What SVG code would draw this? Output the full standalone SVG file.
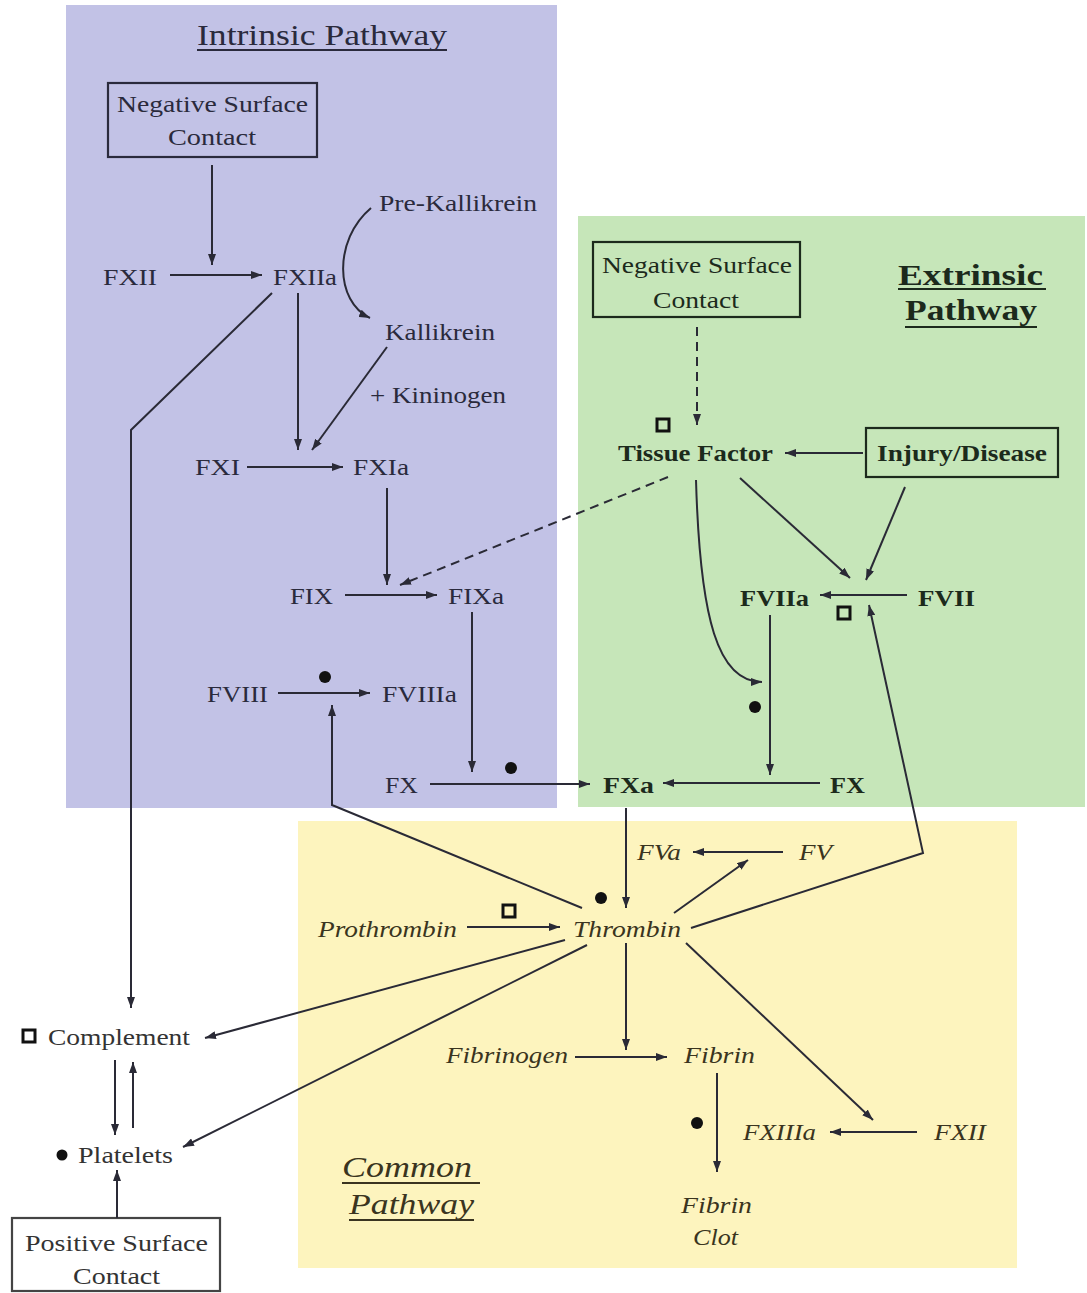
<svg xmlns="http://www.w3.org/2000/svg" width="1087" height="1293" viewBox="0 0 1087 1293">
<style>
text{font-family:"Liberation Serif","Times New Roman",serif;font-size:24px;fill:#2a2a3c}
.t{font-size:30px}
.b{font-weight:bold}
.i{font-style:italic}
.g text,text.g{fill:#1c2a1c}
.y text,text.y{fill:#3a3420}
.k text{fill:#333}
.c{fill:none;stroke:#2a2a36;stroke-width:2}
.d{stroke-dasharray:9 6}
.box{fill:none;stroke-width:2.2}
.sq{fill:none;stroke:#111;stroke-width:3}
.dot{fill:#111}
.ul{stroke-width:1.8}
</style>
<defs>
<marker id="ah" markerWidth="11" markerHeight="8" refX="11" refY="4" orient="auto" markerUnits="userSpaceOnUse">
<path d="M0,0 L11,4 L0,8 z" fill="#2a2a36"/>
</marker>
</defs>
<rect width="1087" height="1293" fill="#ffffff"/>
<g id="regions">
<rect x="66" y="5" width="491" height="803" fill="#c2c2e6"/>
<rect x="578" y="216" width="507" height="591" fill="#c6e6b9"/>
<rect x="298" y="821" width="719" height="447" fill="#fdf4be"/>
</g>

<g id="titles">
<text x="197" y="45" class="t" textLength="250" lengthAdjust="spacingAndGlyphs">Intrinsic Pathway</text>
<line x1="197" y1="50" x2="447" y2="50" stroke="#2a2a3c" class="ul"/>
<text x="898" y="285" class="t b g" textLength="145" lengthAdjust="spacingAndGlyphs">Extrinsic</text>
<line x1="898" y1="289" x2="1046" y2="289" stroke="#1c2a1c" class="ul"/>
<text x="905" y="320" class="t b g" textLength="132" lengthAdjust="spacingAndGlyphs">Pathway</text>
<line x1="905" y1="327" x2="1037" y2="327" stroke="#1c2a1c" class="ul"/>
<text x="342" y="1177" class="t i y" textLength="130" lengthAdjust="spacingAndGlyphs">Common</text>
<line x1="342" y1="1183" x2="480" y2="1183" stroke="#3a3420" class="ul"/>
<text x="349" y="1214" class="t i y" textLength="125" lengthAdjust="spacingAndGlyphs">Pathway</text>
<line x1="349" y1="1220" x2="474" y2="1220" stroke="#3a3420" class="ul"/>
</g>

<g id="n-neg-int"><rect x="108" y="83" width="209" height="74" class="box" stroke="#2a2a3c"/>
<text x="117" y="112" textLength="191" lengthAdjust="spacingAndGlyphs">Negative Surface</text>
<text x="168" y="145" textLength="88" lengthAdjust="spacingAndGlyphs">Contact</text></g>
<g id="n-fxii"><text x="103" y="285" textLength="54" lengthAdjust="spacingAndGlyphs">FXII</text></g>
<g id="n-fxiia"><text x="273" y="285" textLength="64" lengthAdjust="spacingAndGlyphs">FXIIa</text></g>
<g id="n-prekal"><text x="379" y="211" textLength="158" lengthAdjust="spacingAndGlyphs">Pre-Kallikrein</text></g>
<g id="n-kal"><text x="385" y="340" textLength="110" lengthAdjust="spacingAndGlyphs">Kallikrein</text></g>
<g id="n-kin"><text x="370" y="403" textLength="136" lengthAdjust="spacingAndGlyphs">+ Kininogen</text></g>
<g id="n-fxi"><text x="195" y="475" textLength="45" lengthAdjust="spacingAndGlyphs">FXI</text></g>
<g id="n-fxia"><text x="353" y="475" textLength="56" lengthAdjust="spacingAndGlyphs">FXIa</text></g>
<g id="n-fix"><text x="290" y="604" textLength="43" lengthAdjust="spacingAndGlyphs">FIX</text></g>
<g id="n-fixa"><text x="448" y="604" textLength="56" lengthAdjust="spacingAndGlyphs">FIXa</text></g>
<g id="n-fviii"><text x="207" y="702" textLength="61" lengthAdjust="spacingAndGlyphs">FVIII</text></g>
<g id="n-fviiia"><text x="382" y="702" textLength="75" lengthAdjust="spacingAndGlyphs">FVIIIa</text></g>
<g id="n-fx-int"><text x="385" y="793" textLength="33" lengthAdjust="spacingAndGlyphs">FX</text></g>

<g id="n-neg-ext" class="g"><rect x="593" y="242" width="207" height="75" class="box" stroke="#1c2a1c"/>
<text x="602" y="273" textLength="190" lengthAdjust="spacingAndGlyphs">Negative Surface</text>
<text x="653" y="308" textLength="86" lengthAdjust="spacingAndGlyphs">Contact</text></g>
<g id="n-tf" class="g"><text x="618" y="461" class="b" textLength="155" lengthAdjust="spacingAndGlyphs">Tissue Factor</text></g>
<g id="n-injury" class="g"><rect x="866" y="428" width="192" height="49" class="box" stroke="#1c2a1c"/>
<text x="877" y="461" class="b" textLength="170" lengthAdjust="spacingAndGlyphs">Injury/Disease</text></g>
<g id="n-fviia" class="g"><text x="740" y="606" class="b" textLength="69" lengthAdjust="spacingAndGlyphs">FVIIa</text></g>
<g id="n-fvii" class="g"><text x="918" y="606" class="b" textLength="57" lengthAdjust="spacingAndGlyphs">FVII</text></g>
<g id="n-fxa" class="g"><text x="603" y="793" class="b" textLength="51" lengthAdjust="spacingAndGlyphs">FXa</text></g>
<g id="n-fx-ext" class="g"><text x="830" y="793" class="b" textLength="35" lengthAdjust="spacingAndGlyphs">FX</text></g>

<g id="n-fva" class="y"><text x="637" y="860" class="i" textLength="44" lengthAdjust="spacingAndGlyphs">FVa</text></g>
<g id="n-fv" class="y"><text x="799" y="860" class="i" textLength="33" lengthAdjust="spacingAndGlyphs">FV</text></g>
<g id="n-thrombin" class="y"><text x="573" y="937" class="i" textLength="108" lengthAdjust="spacingAndGlyphs">Thrombin</text></g>
<g id="n-prothrombin" class="y"><text x="318" y="937" class="i" textLength="139" lengthAdjust="spacingAndGlyphs">Prothrombin</text></g>
<g id="n-fibrinogen" class="y"><text x="446" y="1063" class="i" textLength="122" lengthAdjust="spacingAndGlyphs">Fibrinogen</text></g>
<g id="n-fibrin" class="y"><text x="684" y="1063" class="i" textLength="71" lengthAdjust="spacingAndGlyphs">Fibrin</text></g>
<g id="n-fxiiia" class="y"><text x="743" y="1140" class="i" textLength="73" lengthAdjust="spacingAndGlyphs">FXIIIa</text></g>
<g id="n-fxii-c" class="y"><text x="934" y="1140" class="i" textLength="52" lengthAdjust="spacingAndGlyphs">FXII</text></g>
<g id="n-clot" class="y"><text x="681" y="1213" class="i" textLength="71" lengthAdjust="spacingAndGlyphs">Fibrin</text>
<text x="693" y="1245" class="i" textLength="45" lengthAdjust="spacingAndGlyphs">Clot</text></g>

<g id="n-complement" class="k"><text x="48" y="1045" textLength="142" lengthAdjust="spacingAndGlyphs">Complement</text></g>
<g id="n-platelets" class="k"><text x="78" y="1163" textLength="95" lengthAdjust="spacingAndGlyphs">Platelets</text></g>
<g id="n-pos" class="k"><rect x="12" y="1218" width="208" height="73" class="box" stroke="#444"/>
<text x="25" y="1251" textLength="183" lengthAdjust="spacingAndGlyphs">Positive Surface</text>
<text x="73" y="1284" textLength="87" lengthAdjust="spacingAndGlyphs">Contact</text></g>

<g id="markers">
<rect x="657" y="419" width="12" height="12" class="sq"/>
<rect x="838" y="607" width="12" height="12" class="sq"/>
<rect x="503" y="905" width="12" height="12" class="sq"/>
<rect x="23" y="1030" width="12" height="12" class="sq"/>
<circle cx="325" cy="677" r="6" class="dot"/>
<circle cx="511" cy="768" r="6" class="dot"/>
<circle cx="755" cy="707" r="6" class="dot"/>
<circle cx="601" cy="898" r="6" class="dot"/>
<circle cx="697" cy="1123" r="6" class="dot"/>
<circle cx="62" cy="1155" r="5.5" class="dot"/>
</g>

<g id="connectors" marker-end="url(#ah)">
<path class="c" d="M212,165 L212,265"/>
<path class="c" d="M170,275 L262,275"/>
<path class="c" d="M371,208 C 333,240 335,302 370,318"/>
<path class="c" d="M298,293 L298,450"/>
<path class="c" d="M387,347 L312,450"/>
<path class="c" d="M247,467 L343,467"/>
<path class="c" d="M387,488 L387,585"/>
<path class="c" d="M345,595 L437,595"/>
<path class="c d" d="M668,477 L400,585"/>
<path class="c" d="M472,612 L472,772"/>
<path class="c" d="M278,693 L370,693"/>
<path class="c" d="M582,908 L332,805 L332,705"/>
<path class="c" d="M430,784 L590,784"/>
<path class="c" d="M272,293 L131,430 L131,1008"/>
<path class="c d" d="M697,327 L697,425"/>
<path class="c" d="M863,453 L785,453"/>
<path class="c" d="M740,478 L850,578"/>
<path class="c" d="M905,487 L866,580"/>
<path class="c" d="M907,595 L820,595"/>
<path class="c" d="M696,480 C 700,620 718,682 762,682"/>
<path class="c" d="M770,615 L770,775"/>
<path class="c" d="M820,783 L663,783"/>
<path class="c" d="M626,808 L626,908"/>
<path class="c" d="M783,852 L693,852"/>
<path class="c" d="M674,913 L748,860"/>
<path class="c" d="M691,928 L923,853 L869,605"/>
<path class="c" d="M467,927 L560,927"/>
<path class="c" d="M565,940 L205,1038"/>
<path class="c" d="M587,945 L183,1147"/>
<path class="c" d="M626,943 L626,1050"/>
<path class="c" d="M575,1057 L667,1057"/>
<path class="c" d="M717,1073 L717,1172"/>
<path class="c" d="M686,943 L873,1120"/>
<path class="c" d="M917,1132 L830,1132"/>
<path class="c" d="M115,1060 L115,1135"/>
<path class="c" d="M133,1128 L133,1062"/>
<path class="c" d="M117,1218 L117,1170"/>
</g>
</svg>
